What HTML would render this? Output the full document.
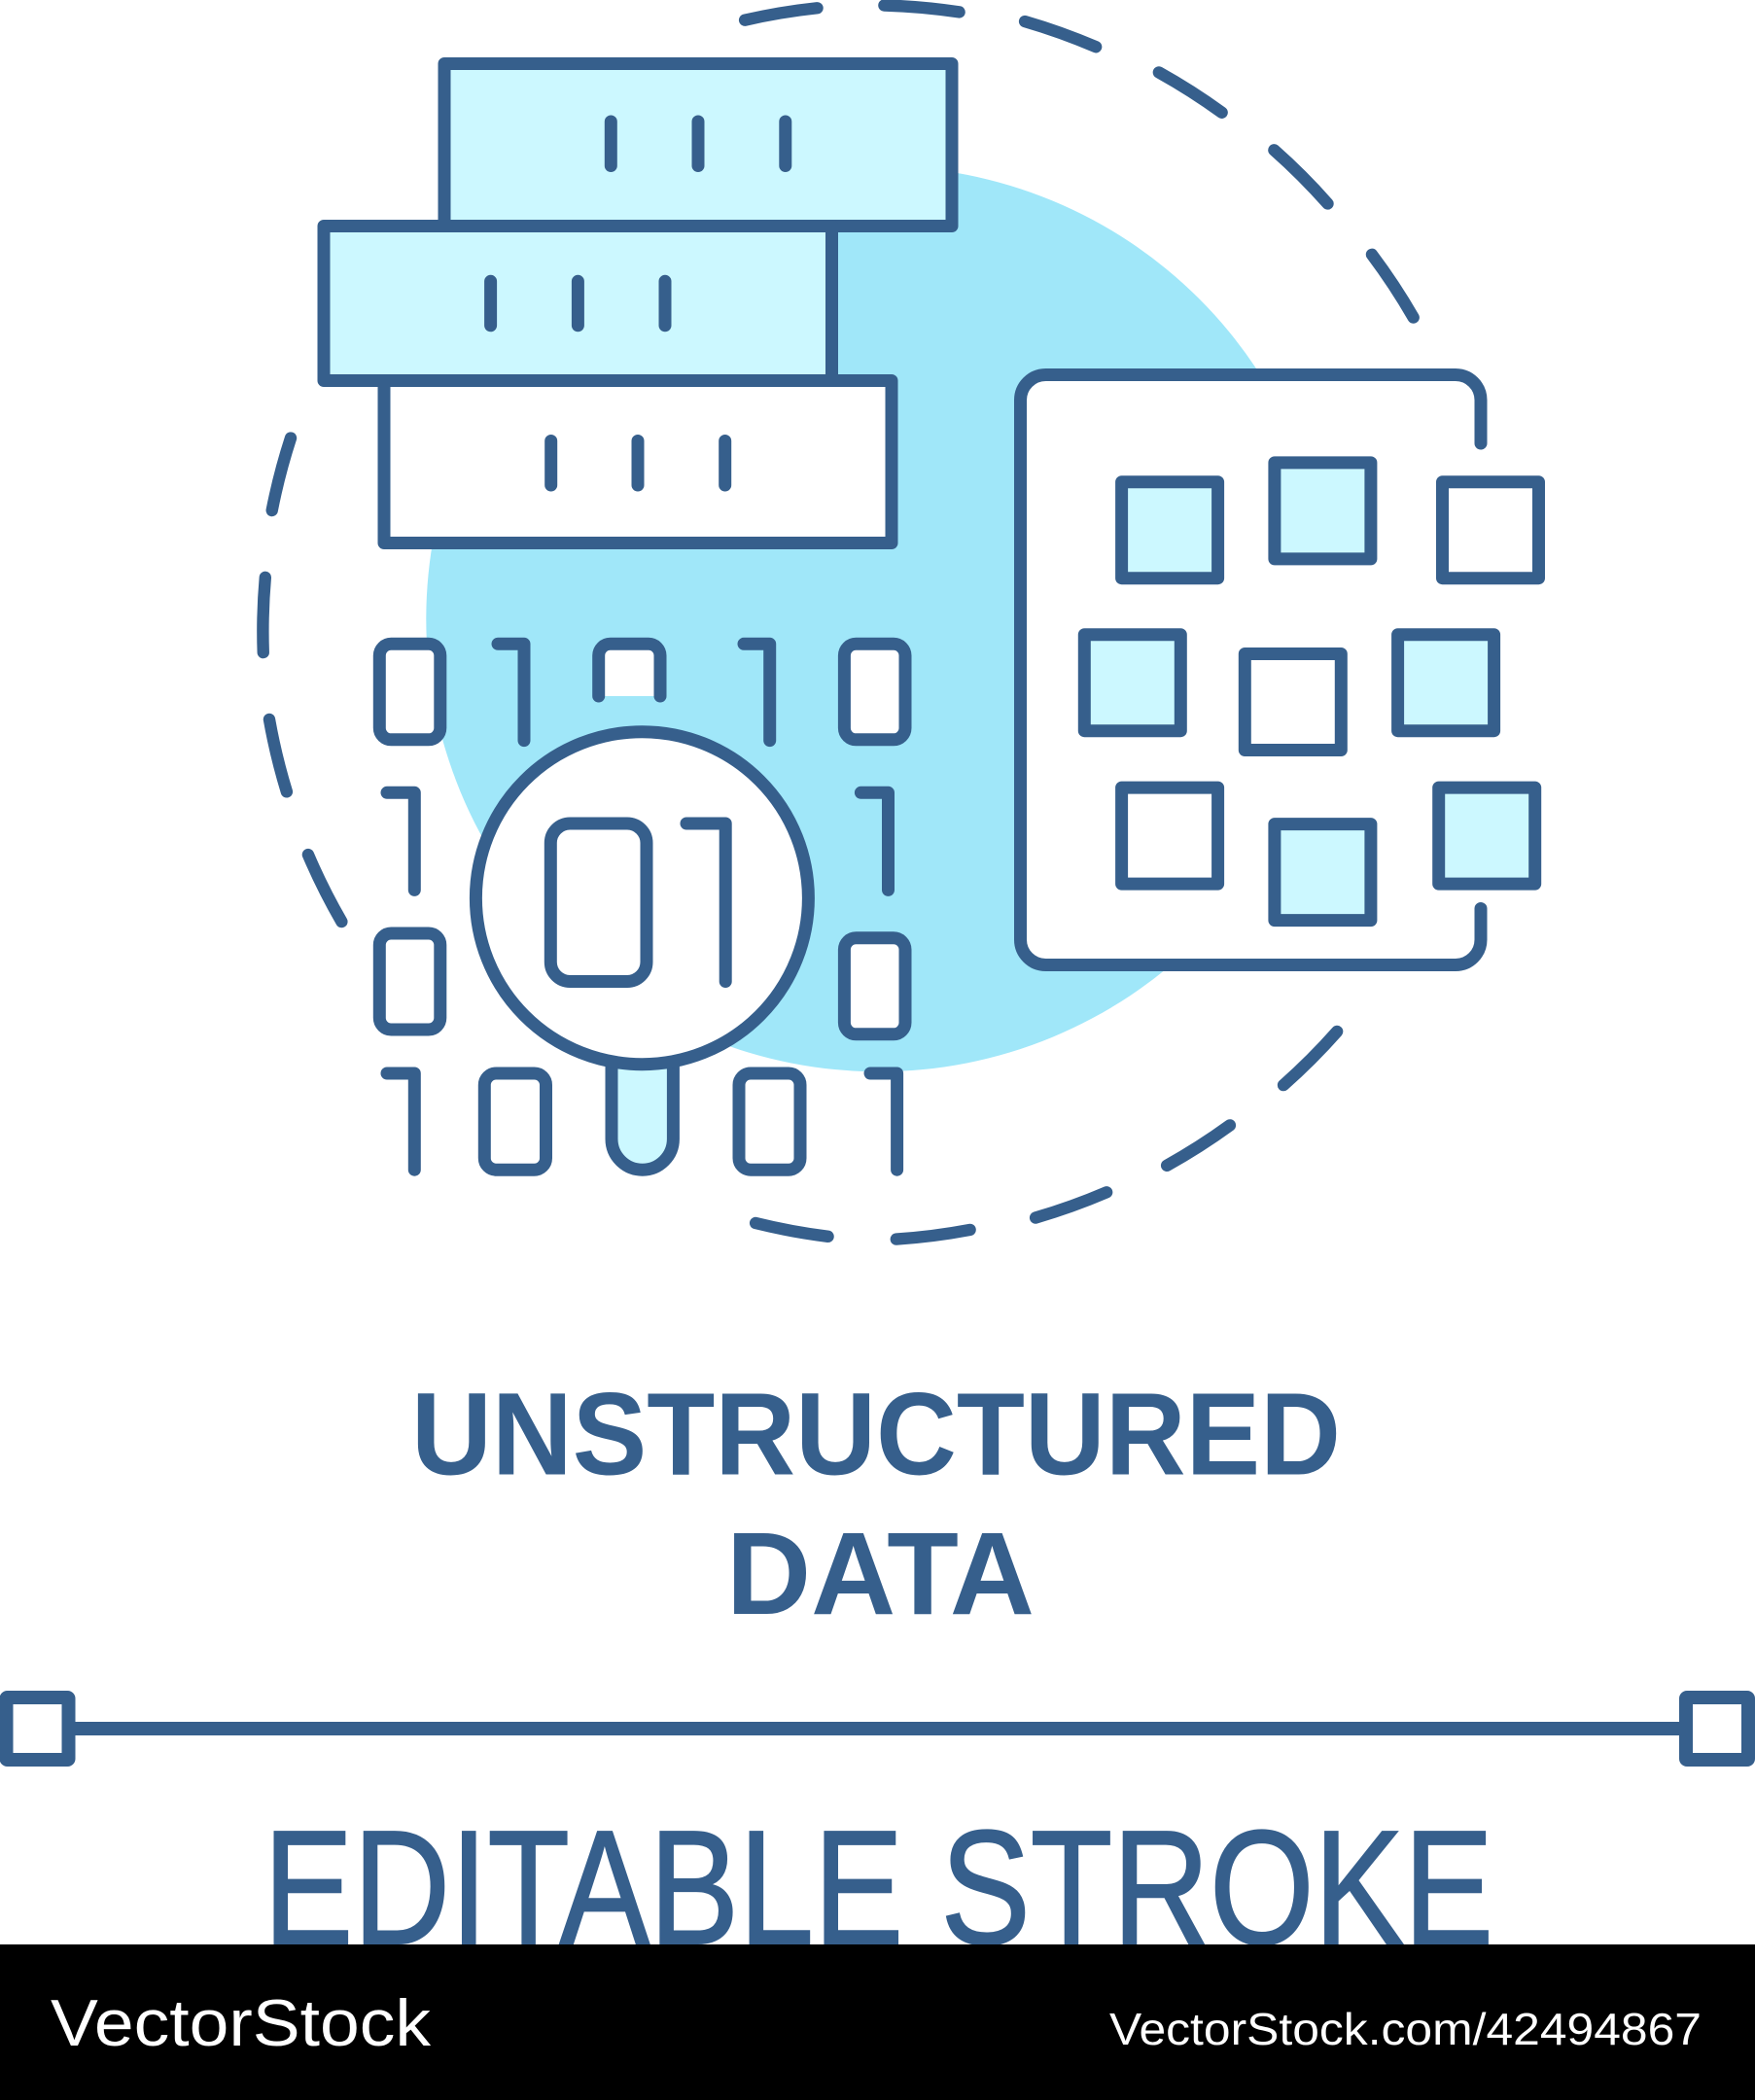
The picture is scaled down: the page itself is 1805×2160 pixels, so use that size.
<!DOCTYPE html>
<html><head><meta charset="utf-8"><title>Unstructured data</title>
<style>html,body{margin:0;padding:0;background:#fff;width:1805px;height:2160px;overflow:hidden}svg{display:block}text{font-family:"Liberation Sans",sans-serif}</style></head>
<body>
<svg xmlns="http://www.w3.org/2000/svg" width="1805" height="2160" viewBox="0 0 1805 2160">
<rect width="1805" height="2160" fill="#fff"/>
<circle cx="904" cy="636.600" r="465.700" fill="#a0e7f9"/>
<g fill="none" stroke="#365f8c" stroke-width="12" stroke-linecap="round" stroke-linejoin="round">
<g transform="scale(1.3779)" stroke-width="9">
<path d="M556 15A461 461 0 0 1 610 6M660 4A461 461 0 0 1 716 9M765 16A461 461 0 0 1 818 35M865 54A461 461 0 0 1 912 84M951 112A461 461 0 0 1 991 152M1024 190A461 461 0 0 1 1055 237"/>
<path d="M217 327A461 461 0 0 0 203 381M198 431A461 461 0 0 0 196.500 487M201 537A461 461 0 0 0 214 591M230 638A461 461 0 0 0 255 688"/>
<path d="M564 913A461 461 0 0 0 618 923M669 925A461 461 0 0 0 724 918M773 909A461 461 0 0 0 826 890M871 870A461 461 0 0 0 918 840M958 810A461 461 0 0 0 998 770"/>
</g>
<g stroke-width="13">
<rect x="395" y="391.500" width="522" height="167" fill="#fff"/>
<rect x="457" y="65.500" width="522" height="167" fill="#ccf8ff"/>
<rect x="333" y="232.500" width="522.500" height="159" fill="#ccf8ff"/>
<path d="M628.300 125V170.500M718 125V170.500M807.800 125V170.500"/>
<path d="M504.600 289.300V334.800M594.400 289.300V334.800M684 289.300V334.800"/>
<path d="M566.700 453.500V499M656 453.500V499M745.700 453.500V499"/>

<rect x="1049.500" y="385.500" width="473.500" height="607" fill="#fff" stroke="none" rx="26"/>
<path d="M1523 456V411.500A26 26 0 0 0 1497 385.500H1075.500A26 26 0 0 0 1049.500 411.500V966.500A26 26 0 0 0 1075.500 992.500H1497A26 26 0 0 0 1523 966.500V934.500"/>
<rect x="1153.600" y="495.700" width="99" height="99" fill="#ccf8ff"/>
<rect x="1310.900" y="475.900" width="99" height="99" fill="#ccf8ff"/>
<rect x="1483.500" y="495.700" width="99" height="99" fill="#fff"/>
<rect x="1115.300" y="652.700" width="99" height="99" fill="#ccf8ff"/>
<rect x="1280.300" y="672.500" width="99" height="99" fill="#fff"/>
<rect x="1437.600" y="652.700" width="99" height="99" fill="#ccf8ff"/>
<rect x="1153.600" y="810.100" width="99" height="99" fill="#fff"/>
<rect x="1310.900" y="847.600" width="99" height="99" fill="#ccf8ff"/>
<rect x="1479.700" y="810.100" width="99" height="99" fill="#ccf8ff"/>

<rect x="390.300" y="662.300" width="62.500" height="98.500" rx="12" fill="#fff"/>
<path d="M512 662.300H539V761.600"/>
<rect x="622" y="668" width="51" height="48" fill="#fff" stroke="none"/>
<path d="M615.700 716V674.300A12 12 0 0 1 627.700 662.300H667A12 12 0 0 1 679 674.300V716"/>
<path d="M765 662.300H791.700V761.600"/>
<rect x="868.400" y="662.300" width="62.600" height="98.500" rx="12" fill="#fff"/>
<path d="M398 815.300H426.300V915.400"/>
<path d="M885.400 815.300H913.500V915.400"/>
<rect x="390.300" y="960" width="62.500" height="99" rx="12" fill="#fff"/>
<rect x="868.400" y="964.800" width="62.600" height="99" rx="12" fill="#fff"/>
<path d="M398 1104H426.300V1203.200"/>
<rect x="498.300" y="1104" width="63.200" height="99.200" rx="12" fill="#fff"/>
<rect x="760" y="1104" width="63" height="99.200" rx="12" fill="#fff"/>
<path d="M895 1104H922.600V1203.200"/>
<path d="M629 1080V1171.500A31.700 31.700 0 0 0 692.400 1171.500V1080Z" fill="#ccf8ff"/>
<circle cx="660.400" cy="923.700" r="171" fill="#fff"/>
<rect x="566.300" y="847" width="98.700" height="162.500" rx="20" fill="#fff"/>
<path d="M706 847H746.200V1009.500"/>

<path d="M71 1778H1733" stroke-linecap="butt" stroke-width="14"/>
<rect x="6.500" y="1746" width="64" height="64" rx="1" fill="#fff" stroke-width="14"/>
<rect x="1734" y="1746" width="64" height="64" rx="1" fill="#fff" stroke-width="14"/>
</g>
</g>
<g fill="#365f8c">
<text x="423" y="1516.500" font-size="121" font-weight="700" textLength="956" lengthAdjust="spacingAndGlyphs">UNSTRUCTURED</text>
<text x="747" y="1660" font-size="121" font-weight="700" textLength="317" lengthAdjust="spacingAndGlyphs">DATA</text>
<text x="271" y="1999" font-size="167" textLength="1265" lengthAdjust="spacingAndGlyphs" stroke="#365f8c" stroke-width="2">EDITABLE STROKE</text>
</g>
<rect x="0" y="2000" width="1805" height="160" fill="#000"/>
<g fill="#fff">
<text x="52" y="2104" font-size="68" textLength="391" lengthAdjust="spacingAndGlyphs">VectorStock</text>
<text x="1141" y="2103" font-size="46" textLength="609" lengthAdjust="spacingAndGlyphs">VectorStock.com/42494867</text>
</g>
</svg>
</body></html>
